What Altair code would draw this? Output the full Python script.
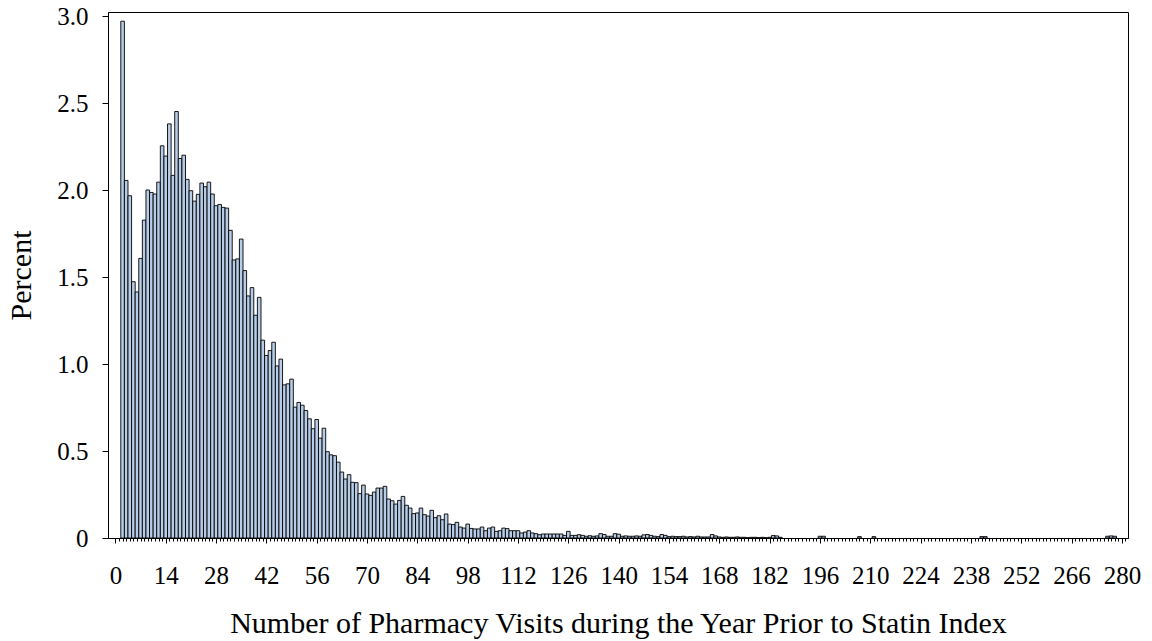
import altair as alt
import pandas as pd

# Percent of patients by number of pharmacy visits (visits 2..185, one value per visit)
percent_main = [
    2.97, 2.055, 1.967, 1.473, 1.414, 1.607, 1.827, 2.0, 1.986, 1.977,
    2.045, 2.254, 2.195, 2.38, 2.084, 2.451, 2.181, 2.2, 2.061, 1.996,
    1.936, 1.975, 2.04, 2.019, 2.045, 1.977, 1.91, 1.917, 1.90, 1.896,
    1.768, 1.598, 1.604, 1.718, 1.537, 1.391, 1.439, 1.28, 1.383, 1.137,
    1.049, 1.077, 1.125, 0.989, 1.028, 0.88, 0.886, 0.913, 0.752, 0.779,
    0.763, 0.733, 0.685, 0.628, 0.681, 0.574, 0.631, 0.496, 0.478, 0.473,
    0.436, 0.379, 0.339, 0.364, 0.32, 0.318, 0.255, 0.304, 0.253, 0.245,
    0.264, 0.287, 0.287, 0.297, 0.224, 0.214, 0.195, 0.216, 0.239, 0.188,
    0.172, 0.14, 0.144, 0.172, 0.134, 0.126, 0.159, 0.117, 0.128, 0.105,
    0.138, 0.08, 0.077, 0.09, 0.063, 0.057, 0.08, 0.055, 0.052, 0.052,
    0.063, 0.042, 0.057, 0.063, 0.038, 0.042, 0.057, 0.054, 0.042, 0.042,
    0.042, 0.029, 0.034, 0.042, 0.029, 0.025, 0.019, 0.023, 0.023, 0.023,
    0.023, 0.023, 0.023, 0.015, 0.038, 0.015, 0.015, 0.019, 0.015, 0.01,
    0.013, 0.01, 0.012, 0.025, 0.02, 0.01, 0.01, 0.025, 0.022, 0.01,
    0.012, 0.01, 0.01, 0.012, 0.01, 0.018, 0.02, 0.015, 0.01, 0.008,
    0.02, 0.015, 0.008, 0.01, 0.008, 0.008, 0.01, 0.006, 0.008, 0.006,
    0.01, 0.006, 0.006, 0.006, 0.02, 0.012, 0.006, 0.004, 0.006, 0.004,
    0.004, 0.006, 0.004, 0.004, 0.002, 0.004, 0.004, 0.002, 0.004, 0.002,
    0.004, 0.014, 0.012, 0.004,
]
first_visit = 2

# Sparse far tail
tail_visits = [196, 197, 207, 211, 241, 242, 276, 277, 278]
tail_percent = [0.01, 0.01, 0.008, 0.008, 0.008, 0.008, 0.01, 0.012, 0.01]

x_tick_values = list(range(0, 282))
y_tick_values = [0, 0.5, 1.0, 1.5, 2.0, 2.5, 3.0]

visits = list(range(first_visit, first_visit + len(percent_main))) + tail_visits
percent = percent_main + tail_percent
df = pd.DataFrame({"visits": visits, "percent": percent})

FONT = "Liberation Serif"

bars = alt.Chart(df).transform_calculate(
    x0="datum.visits - 0.5", x1="datum.visits + 0.5"
).mark_bar(
    fill="#B7CCE6", stroke="#000000", strokeWidth=0.9, opacity=1
).encode(
    x=alt.X(
        "x0:Q",
        scale=alt.Scale(domain=[-2.06, 281.7], nice=False, zero=False),
        axis=alt.Axis(
            title="Number of Pharmacy Visits during the Year Prior to Statin Index",
            values=x_tick_values,
            labelExpr="datum.value % 14 === 0 ? datum.label : ''",
            labelOverlap=False,
            labelFlush=False,
            tickSize={"condition": {"test": "datum.value % 14 === 0", "value": 5}, "value": 3},
            tickColor="#000000",
            tickWidth=1,
            domainColor="#000000",
            labelFont=FONT,
            labelFontSize=25,
            labelColor="#000000",
            labelPadding=20,
            titleFont=FONT,
            titleFontSize=30,
            titleFontWeight="normal",
            titleColor="#000000",
            titlePadding=20,
            grid=False,
        ),
    ),
    x2="x1:Q",
    y=alt.Y(
        "percent:Q",
        scale=alt.Scale(domain=[0, 3.023], nice=False),
        axis=alt.Axis(
            title="Percent",
            values=y_tick_values,
            labelExpr="datum.value === 0 ? '0' : format(datum.value, '.1f')",
            tickSize=6,
            tickColor="#000000",
            domainColor="#000000",
            labelFont=FONT,
            labelFontSize=25,
            labelColor="#000000",
            labelPadding=14,
            titleFont=FONT,
            titleFontSize=30,
            titleFontWeight="normal",
            titleColor="#000000",
            titlePadding=20,
            grid=False,
        ),
    ),
    y2=alt.datum(0),
)

chart = bars.properties(
    width=1020,
    height=526,
    autosize=alt.AutoSizeParams(type="none"),
    padding={"left": 108, "top": 12, "right": 24, "bottom": 103},
    background="#ffffff",
).configure_view(stroke="#000000", strokeWidth=1)

chart.save("out.html", embed_options={"renderer": "svg", "actions": False})
